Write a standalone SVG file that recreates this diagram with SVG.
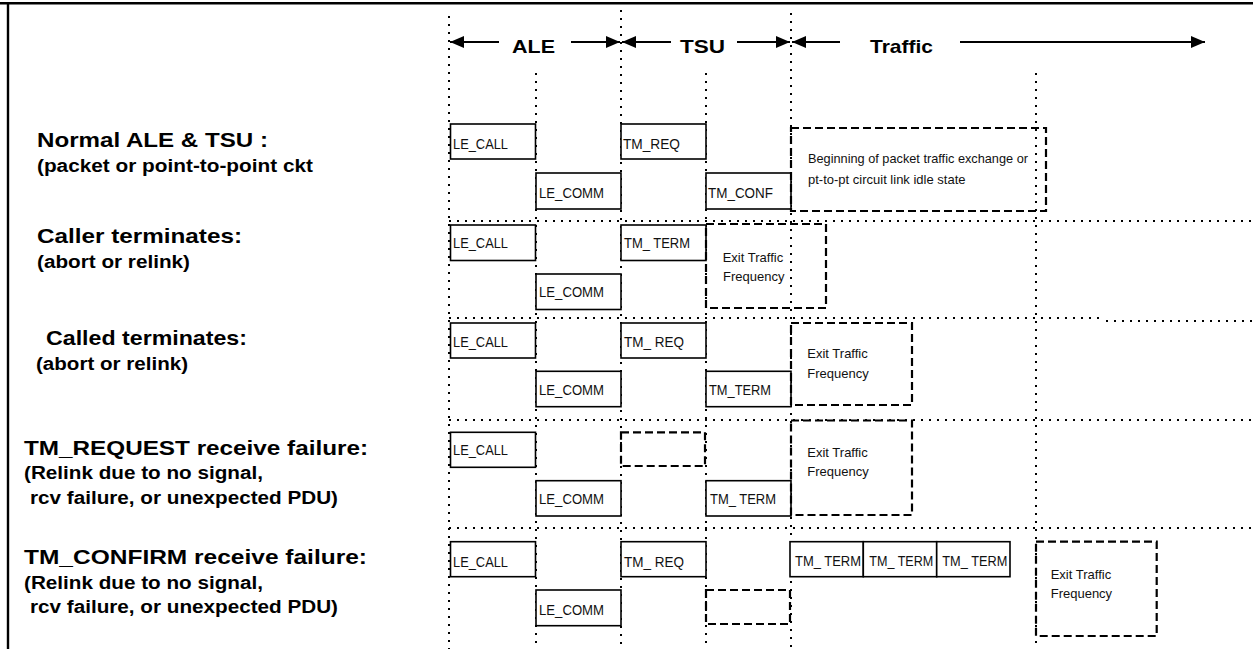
<svg xmlns="http://www.w3.org/2000/svg" width="1253" height="649" viewBox="0 0 1253 649">
<defs>
<marker id="ah" viewBox="0 0 14 12" refX="14" refY="6" markerWidth="14" markerHeight="12" markerUnits="userSpaceOnUse" orient="auto"><path d="M0,0 L14,6 L0,12 z" fill="#000"/></marker>
<style>
.frame{stroke:#000;stroke-width:2.4;fill:none}
.grid{stroke:#000;stroke-width:2;stroke-dasharray:2 6;fill:none}
.arrow{stroke:#000;stroke-width:2;fill:none;marker-end:url(#ah)}
.box{fill:#fff;stroke:#000;stroke-width:1.6}
.dbox{fill:none;stroke:#000;stroke-width:2.2;stroke-dasharray:8 4}
.hdr{font-family:"Liberation Sans",Arial,sans-serif;font-weight:bold;font-size:19px;fill:#000}
.ttl{font-family:"Liberation Sans",Arial,sans-serif;font-weight:bold;font-size:20.5px;fill:#000}
.sub{font-family:"Liberation Sans",Arial,sans-serif;font-weight:bold;font-size:17.5px;fill:#000}
.lbl{font-family:"Liberation Sans Narrow","Liberation Sans",Arial,sans-serif;font-size:15px;fill:#111}
.note{font-family:"Liberation Sans",Arial,sans-serif;font-size:13px;fill:#111}
</style>
</defs>
<rect width="1253" height="649" fill="#fff"/>
<g id="frame">
<line class="frame" x1="0" y1="3.3" x2="1253" y2="3.3"/>
<line class="frame" x1="8" y1="3" x2="8" y2="649"/>
</g>
<g id="gridlines">
<line class="grid" x1="449" y1="16" x2="449" y2="649"/>
<line class="grid" x1="536" y1="73" x2="536" y2="649"/>
<line class="grid" x1="621" y1="10" x2="621" y2="649"/>
<line class="grid" x1="706" y1="73" x2="706" y2="649"/>
<line class="grid" x1="791" y1="13" x2="791" y2="649"/>
<line class="grid" x1="1036" y1="73" x2="1036" y2="649"/>
<line class="grid" x1="449" y1="221" x2="1253" y2="221"/>
<line class="grid" x1="449" y1="318" x2="1103" y2="318"/>
<line class="grid" x1="1106" y1="321" x2="1253" y2="321"/>
<line class="grid" x1="449" y1="420" x2="1253" y2="420"/>
<line class="grid" x1="449" y1="528" x2="1253" y2="528"/>
</g>
<g id="connectors">
<line class="arrow" x1="499" y1="42" x2="450" y2="42"/>
<line class="arrow" x1="571" y1="42" x2="620" y2="42"/>
<line class="arrow" x1="671" y1="42" x2="622" y2="42"/>
<line class="arrow" x1="737" y1="42" x2="790" y2="42"/>
<line class="arrow" x1="840" y1="42" x2="792" y2="42"/>
<line class="arrow" x1="960" y1="42" x2="1205" y2="42"/>
</g>
<g id="header">
<text class="hdr" x="512" y="53.3" textLength="43" lengthAdjust="spacingAndGlyphs">ALE</text>
<text class="hdr" x="680" y="53.3" textLength="45" lengthAdjust="spacingAndGlyphs">TSU</text>
<text class="hdr" x="870" y="53.3" textLength="63" lengthAdjust="spacingAndGlyphs">Traffic</text>
</g>
<g id="row-labels">
<g id="label-normal">
<text class="ttl" x="37" y="146.7" textLength="231" lengthAdjust="spacingAndGlyphs">Normal ALE &amp; TSU :</text>
<text class="sub" x="37" y="171.7" textLength="276" lengthAdjust="spacingAndGlyphs">(packet or point-to-point ckt</text>
</g>
<g id="label-caller">
<text class="ttl" x="37" y="243" textLength="205" lengthAdjust="spacingAndGlyphs">Caller terminates:</text>
<text class="sub" x="37" y="268" textLength="153" lengthAdjust="spacingAndGlyphs">(abort or relink)</text>
</g>
<g id="label-called">
<text class="ttl" x="46" y="345" textLength="201" lengthAdjust="spacingAndGlyphs">Called terminates:</text>
<text class="sub" x="36" y="370" textLength="152" lengthAdjust="spacingAndGlyphs">(abort or relink)</text>
</g>
<g id="label-tmreq">
<text class="ttl" x="24" y="455" textLength="344" lengthAdjust="spacingAndGlyphs">TM_REQUEST receive failure:</text>
<text class="sub" x="24" y="479" textLength="239" lengthAdjust="spacingAndGlyphs">(Relink due to no signal,</text>
<text class="sub" x="30" y="504" textLength="308" lengthAdjust="spacingAndGlyphs">rcv failure, or unexpected PDU)</text>
</g>
<g id="label-tmconf">
<text class="ttl" x="24" y="564" textLength="343" lengthAdjust="spacingAndGlyphs">TM_CONFIRM receive failure:</text>
<text class="sub" x="24" y="589" textLength="239" lengthAdjust="spacingAndGlyphs">(Relink due to no signal,</text>
<text class="sub" x="30" y="613" textLength="308" lengthAdjust="spacingAndGlyphs">rcv failure, or unexpected PDU)</text>
</g>
</g>
<g id="row1">
<g id="r1-lecall"><rect class="box" x="450.5" y="124" width="85" height="35"/><text class="lbl" x="453" y="149.3" textLength="55" lengthAdjust="spacingAndGlyphs">LE_CALL</text></g>
<g id="r1-lecomm"><rect class="box" x="536" y="173" width="85" height="36"/><text class="lbl" x="539" y="198.3" textLength="65" lengthAdjust="spacingAndGlyphs">LE_COMM</text></g>
<g id="r1-tmreq"><rect class="box" x="621" y="124" width="85" height="35"/><text class="lbl" x="623" y="149.3" textLength="57" lengthAdjust="spacingAndGlyphs">TM_REQ</text></g>
<g id="r1-tmconf"><rect class="box" x="706" y="173" width="85" height="36"/><text class="lbl" x="708" y="198.3" textLength="65" lengthAdjust="spacingAndGlyphs">TM_CONF</text></g>
<g id="r1-traffic"><rect class="dbox" x="791" y="128" width="255" height="83"/><text class="note" x="808" y="163" textLength="220" lengthAdjust="spacingAndGlyphs">Beginning of packet traffic exchange or</text><text class="note" x="808" y="184">pt-to-pt circuit link idle state</text></g>
</g>
<g id="row2">
<g id="r2-lecall"><rect class="box" x="450.5" y="225" width="85" height="35.5"/><text class="lbl" x="453" y="248.3" textLength="55" lengthAdjust="spacingAndGlyphs">LE_CALL</text></g>
<g id="r2-lecomm"><rect class="box" x="536" y="274" width="85" height="35.5"/><text class="lbl" x="539" y="297.3" textLength="65" lengthAdjust="spacingAndGlyphs">LE_COMM</text></g>
<g id="r2-tmterm"><rect class="box" x="621" y="225" width="85" height="35.5"/><text class="lbl" x="624" y="248.3" textLength="66" lengthAdjust="spacingAndGlyphs">TM_ TERM</text></g>
<g id="r2-exit"><rect class="dbox" x="706" y="224" width="120" height="84"/><text class="note" x="722.7" y="261.7">Exit Traffic</text><text class="note" x="723" y="280.7">Frequency</text></g>
</g>
<g id="row3">
<g id="r3-lecall"><rect class="box" x="450.5" y="323" width="85" height="35"/><text class="lbl" x="453" y="346.7" textLength="55" lengthAdjust="spacingAndGlyphs">LE_CALL</text></g>
<g id="r3-lecomm"><rect class="box" x="536" y="371.3" width="85" height="35.4"/><text class="lbl" x="539" y="395" textLength="65" lengthAdjust="spacingAndGlyphs">LE_COMM</text></g>
<g id="r3-tmreq"><rect class="box" x="621" y="323" width="85" height="35"/><text class="lbl" x="624" y="346.7" textLength="60" lengthAdjust="spacingAndGlyphs">TM_ REQ</text></g>
<g id="r3-tmterm"><rect class="box" x="706" y="371.3" width="85" height="35.4"/><text class="lbl" x="709" y="395" textLength="62" lengthAdjust="spacingAndGlyphs">TM_TERM</text></g>
<g id="r3-exit"><rect class="dbox" x="791" y="323" width="121" height="82"/><text class="note" x="807.3" y="358.3">Exit Traffic</text><text class="note" x="807.3" y="377.7">Frequency</text></g>
</g>
<g id="row4">
<g id="r4-lecall"><rect class="box" x="450.5" y="432.3" width="85" height="35"/><text class="lbl" x="453" y="455" textLength="55" lengthAdjust="spacingAndGlyphs">LE_CALL</text></g>
<g id="r4-lecomm"><rect class="box" x="536" y="480.7" width="85" height="35.3"/><text class="lbl" x="539" y="504" textLength="65" lengthAdjust="spacingAndGlyphs">LE_COMM</text></g>
<g id="r4-missing"><rect class="dbox" x="621" y="432.3" width="84" height="33.7"/></g>
<g id="r4-tmterm"><rect class="box" x="706" y="480.7" width="85" height="35.3"/><text class="lbl" x="710" y="504" textLength="66" lengthAdjust="spacingAndGlyphs">TM_ TERM</text></g>
<g id="r4-exit"><rect class="dbox" x="791" y="420.5" width="121" height="94.5"/><text class="note" x="807.3" y="456.7">Exit Traffic</text><text class="note" x="807.3" y="476">Frequency</text></g>
</g>
<g id="row5">
<g id="r5-lecall"><rect class="box" x="450.5" y="541.7" width="85" height="35"/><text class="lbl" x="453" y="566.7" textLength="55" lengthAdjust="spacingAndGlyphs">LE_CALL</text></g>
<g id="r5-lecomm"><rect class="box" x="536" y="590" width="85" height="35.7"/><text class="lbl" x="539" y="615" textLength="65" lengthAdjust="spacingAndGlyphs">LE_COMM</text></g>
<g id="r5-tmreq"><rect class="box" x="621" y="541.7" width="85" height="35"/><text class="lbl" x="624" y="566.7" textLength="60" lengthAdjust="spacingAndGlyphs">TM_ REQ</text></g>
<g id="r5-missing"><rect class="dbox" x="706" y="590" width="84" height="34"/></g>
<g id="r5-tmterm1"><rect class="box" x="790" y="541.7" width="73.3" height="35"/><text class="lbl" x="795" y="566" textLength="66" lengthAdjust="spacingAndGlyphs">TM_ TERM</text></g>
<g id="r5-tmterm2"><rect class="box" x="863.3" y="541.7" width="73.4" height="35"/><text class="lbl" x="869.3" y="566" textLength="64" lengthAdjust="spacingAndGlyphs">TM_ TERM</text></g>
<g id="r5-tmterm3"><rect class="box" x="936.7" y="541.7" width="73.3" height="35"/><text class="lbl" x="942.3" y="566" textLength="65" lengthAdjust="spacingAndGlyphs">TM_ TERM</text></g>
<g id="r5-exit"><rect class="dbox" x="1036" y="541.7" width="120.7" height="94.3"/><text class="note" x="1050.7" y="579.3">Exit Traffic</text><text class="note" x="1050.7" y="598.3">Frequency</text></g>
</g>
</svg>
